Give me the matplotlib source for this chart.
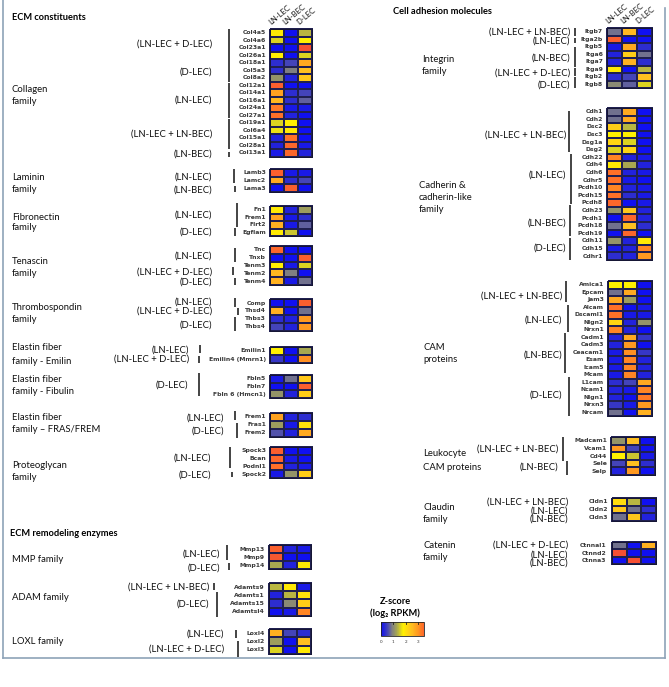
import numpy as np
import matplotlib
matplotlib.use("Agg")
import matplotlib.pyplot as plt
from matplotlib.colors import LinearSegmentedColormap, Normalize

# ---------------- data ----------------
columns = ["LN-LEC", "LN-BEC", "D-LEC"]

collagen_genes = ["Col4a5", "Col4a6", "Col23a1", "Col26a1", "Col18a1", "Col5a3", "Col8a2",
                  "Col12a1", "Col14a1", "Col16a1", "Col24a1", "Col27a1", "Col19a1", "Col6a4",
                  "Col15a1", "Col28a1", "Col13a1"]
collagen_vals = [[1.9, 0.0, 1.4], [1.6, 0.0, 1.8], [0.0, 0.0, 3.8], [1.8, 0.0, 1.6],
                 [0.3, 0.5, 2.8], [0.3, 0.9, 2.5], [1.1, 0.2, 2.4], [3.6, 0.0, 0.0],
                 [2.9, 0.3, 0.5], [2.6, 0.3, 0.7], [3.3, 0.1, 0.1], [3.4, 0.2, 0.0],
                 [1.6, 1.8, 0.0], [1.7, 1.9, 0.0], [0.2, 3.4, 0.0], [0.2, 3.5, 0.1],
                 [0.1, 3.5, 0.2]]
collagen_groups = ["(LN-LEC + D-LEC)", "(D-LEC)", "(LN-LEC)", "(LN-LEC + LN-BEC)", "(LN-BEC)"]

laminin_genes = ["Lamb3", "Lamc2", "Lama3"]
laminin_vals = [[3.6, 0.1, 0.1], [2.8, 0.3, 0.5], [0.0, 3.6, 0.0]]
laminin_groups = ["(LN-LEC)", "(LN-BEC)"]

fibronectin_genes = ["Fn1", "Frem1", "Flrt2", "Egflam"]
fibronectin_vals = [[1.9, 0.2, 1.2], [2.9, 0.1, 0.3], [2.7, 0.1, 0.7], [1.9, 1.5, 0.0]]
fibronectin_groups = ["(LN-LEC)", "(D-LEC)"]

tenascin_genes = ["Tnc", "Tnxb", "Tenm3", "Tenm2", "Tenm4"]
tenascin_vals = [[3.5, 0.0, 0.0], [0.0, 0.0, 3.6], [1.8, 0.1, 1.6], [2.6, 0.9, 0.0], [2.7, 0.1, 0.8]]
tenascin_groups = ["(LN-LEC)", "(LN-LEC + D-LEC)", "(D-LEC)"]

thrombo_genes = ["Comp", "Thsd4", "Thbs3", "Thbs4"]
thrombo_vals = [[0.0, 0.0, 3.6], [2.7, 0.0, 0.8], [0.3, 0.2, 3.0], [0.5, 0.2, 3.0]]
thrombo_groups = ["(LN-LEC)", "(LN-LEC + D-LEC)", "(D-LEC)"]

emilin_genes = ["Emilin1", "Emilin4 (Mmrn1)"]
emilin_vals = [[1.8, 0.0, 1.3], [0.4, 0.0, 3.1]]
emilin_groups = ["(LN-LEC)", "(LN-LEC + D-LEC)"]

fibulin_genes = ["Fbln5", "Fbln7", "Fbln 6 (Hmcn1)"]
fibulin_vals = [[0.1, 0.8, 2.4], [0.0, 0.0, 3.6], [1.1, 0.2, 2.3]]
fibulin_groups = ["(D-LEC)"]

fras_genes = ["Frem1", "Fras1", "Frem2"]
fras_vals = [[2.9, 0.2, 0.3], [1.2, 0.1, 2.0], [0.6, 0.2, 2.8]]
fras_groups = ["(LN-LEC)", "(D-LEC)"]

proteo_genes = ["Spock3", "Bcan", "Podnl1", "Spock2"]
proteo_vals = [[3.6, 0.0, 0.0], [3.5, 0.1, 0.0], [3.4, 0.2, 0.1], [0.1, 1.1, 2.3]]
proteo_groups = ["(LN-LEC)", "(D-LEC)"]

mmp_genes = ["Mmp13", "Mmp9", "Mmp14"]
mmp_vals = [[3.6, 0.2, 0.1], [3.7, 0.0, 0.0], [1.3, 0.2, 1.9]]
mmp_groups = ["(LN-LEC)", "(D-LEC)"]

adam_genes = ["Adamts9", "Adamts1", "Adamts15", "Adamtsl4"]
adam_vals = [[1.4, 1.9, 0.1], [0.2, 1.4, 2.0], [0.3, 1.0, 2.3], [0.0, 0.1, 3.2]]
adam_groups = ["(LN-LEC + LN-BEC)", "(D-LEC)"]

loxl_genes = ["Loxl4", "Loxl2", "Loxl3"]
loxl_vals = [[2.7, 0.5, 0.3], [1.2, 0.0, 2.5], [1.6, 0.0, 1.9]]
loxl_groups = ["(LN-LEC)", "(LN-LEC + D-LEC)"]

integrin_genes = ["Itgb7", "Itga2b", "Itgb5", "Itga6", "Itga7", "Itga9", "Itgb2", "Itgb8"]
integrin_vals = [[0.8, 2.6, 0.0], [3.6, 0.0, 0.0], [0.1, 2.8, 0.3], [0.2, 2.3, 0.8],
                 [0.2, 2.7, 0.3], [1.9, 0.0, 1.4], [0.3, 0.5, 2.5], [1.0, 0.7, 1.6]]
integrin_groups = ["(LN-LEC + LN-BEC)", "(LN-LEC)", "(LN-BEC)", "(LN-LEC + D-LEC)", "(D-LEC)"]

cadherin_genes = ["Cdh1", "Cdh2", "Dsc2", "Dsc3", "Dsg1a", "Dsg2", "Cdh22", "Cdh4", "Cdh6",
                  "Cdhr5", "Pcdh10", "Pcdh15", "Pcdh8", "Cdh23", "Pcdh1", "Pcdh18", "Pcdh19",
                  "Cdh11", "Cdh15", "Cdhr1"]
cadherin_vals = [[0.8, 2.8, 0.0], [0.8, 2.8, 0.0], [2.3, 1.4, 0.0], [1.8, 1.8, 0.0],
                 [2.2, 1.6, 0.0], [1.6, 2.2, 0.0], [3.2, 0.2, 0.1], [1.9, 1.3, 0.2],
                 [3.4, 0.2, 0.1], [3.4, 0.1, 0.0], [3.2, 0.2, 0.1], [3.4, 0.3, 0.1],
                 [3.5, 0.0, 0.1], [1.1, 2.4, 0.2], [0.0, 3.5, 0.2], [0.8, 2.5, 0.3],
                 [0.0, 3.5, 0.0], [1.1, 0.2, 1.9], [0.1, 0.2, 3.2], [0.3, 0.2, 3.0]]
cadherin_groups = ["(LN-LEC + LN-BEC)", "(LN-LEC)", "(LN-BEC)", "(D-LEC)"]

cam_genes = ["Amica1", "Epcam", "Jam3", "Alcam", "Dscaml1", "Nlgn2", "Nrxn1", "Cadm1", "Cadm3",
             "Ceacam1", "Esam", "Icam5", "Mcam", "L1cam", "Ncam1", "Nlgn1", "Nrxn3", "Nrcam"]
cam_vals = [[1.8, 1.8, 0.0], [0.8, 2.8, 0.0], [2.8, 1.2, 0.0], [3.4, 0.0, 0.1],
            [3.4, 0.1, 0.1], [2.2, 0.2, 1.1], [3.2, 0.2, 0.0], [0.2, 2.8, 0.4],
            [0.2, 3.0, 0.0], [0.1, 3.1, 0.4], [0.1, 3.2, 0.2], [0.1, 3.2, 0.2],
            [0.1, 3.2, 0.2], [0.3, 0.5, 2.8], [0.2, 0.1, 3.2], [0.2, 0.0, 3.3],
            [0.4, 0.1, 3.0], [0.8, 0.0, 2.7]]
cam_groups = ["(LN-LEC + LN-BEC)", "(LN-LEC)", "(LN-BEC)", "(D-LEC)"]

leuko_genes = ["Madcam1", "Vcam1", "Cd44", "Sele", "Selp"]
leuko_vals = [[1.1, 2.5, 0.0], [3.0, 0.5, 0.0], [1.8, 1.5, 0.1], [0.5, 2.5, 0.3], [0.2, 3.0, 0.0]]
leuko_groups = ["(LN-LEC + LN-BEC)", "(LN-BEC)"]

claudin_genes = ["Cldn1", "Cldn2", "Cldn3"]
claudin_vals = [[2.1, 1.4, 0.0], [2.4, 0.8, 0.3], [0.8, 2.4, 0.2]]
claudin_groups = ["(LN-LEC + LN-BEC)", "(LN-LEC)", "(LN-BEC)"]

catenin_genes = ["Ctnnal1", "Ctnnd2", "Ctnna3"]
catenin_vals = [[0.8, 0.0, 2.7], [3.8, 0.0, 0.0], [0.0, 3.8, 0.0]]
catenin_groups = ["(LN-LEC + D-LEC)", "(LN-LEC)", "(LN-BEC)"]

colorbar_ticks = [0, 1, 2, 3]

# ---------------- style ----------------
FONT = ["Lato", "DejaVu Sans"]
plt.rcParams["font.family"] = FONT

nodes = [(0.0, "#1010f0"), (0.45, "#3c3cc0"), (0.9, "#808080"), (1.3, "#a8a850"),
         (1.8, "#fff000"), (2.5, "#ffc020"), (3.0, "#ff9a20"), (3.4, "#ff7028"),
         (4.0, "#f04038")]
VMAX = 4.0
cmap = LinearSegmentedColormap.from_list("z", [(v / VMAX, c) for v, c in nodes])
norm = Normalize(0, VMAX)

W, H = 669, 687
fig = plt.figure(figsize=(W / 100, H / 100), dpi=100)
ax = fig.add_axes([0, 0, 1, 1])
ax.set_xlim(0, W)
ax.set_ylim(H, 0)
ax.axis("off")

GROUP_FS = 6.8
FAM_FS = 6.8
GENE_FS = 4.4
HEAD_FS = 6.7


def block(genes, vals, groups, x0, top, rowh, colw, label_x, label_r, bars,
          family, fam_x, gene_gap=4, header=False):
    vals = np.asarray(vals, float)
    n = len(genes)
    xe = x0 + colw * np.arange(len(columns) + 1)
    ye = top + rowh * np.arange(n + 1)
    ax.pcolormesh(xe, ye, vals, cmap=cmap, norm=norm, edgecolors="#202050",
                  linewidth=0.35)
    ax.add_patch(plt.Rectangle((xe[0], ye[0]), xe[-1] - xe[0], ye[-1] - ye[0],
                               fill=False, ec="#151530", lw=0.6))
    for i, g in enumerate(genes):
        ax.text(x0 - gene_gap, top + (i + 0.5) * rowh, g, ha="right", va="center",
                fontsize=GENE_FS, fontweight="bold", color="#3a3a3a",
                family=["DejaVu Sans"])
    for g, r in zip(groups, label_r):
        ax.text(label_x, top + r * rowh, g, ha="right", va="center",
                fontsize=GROUP_FS, color="#111111")
    for (r0, r1, bx) in bars:
        ax.plot([bx, bx], [top + r0 * rowh, top + r1 * rowh], color="#111111",
                lw=1.1, solid_capstyle="butt")
    for line, y in family:
        ax.text(fam_x, y, line, ha="left", va="center", fontsize=FAM_FS, color="#111111")
    if header:
        for j, c in enumerate(columns):
            ax.text(xe[j] + 1.5, top - 3, c, rotation=40, rotation_mode="anchor",
                    ha="left", va="bottom", fontsize=5.5, color="#111111")


LX = 12
RX = 422
# ---- left panel ----
ax.text(12, 17, "ECM constituents", fontsize=HEAD_FS, fontweight="bold", va="center")
block(collagen_genes, collagen_vals, collagen_groups, 270, 29, 7.5, 14, 212,
      [2.0, 5.7, 9.5, 14.0, 16.7],
      [(0, 3.97, 229), (4.05, 7, 229), (7.2, 11.9, 229), (12, 15.95, 229), (16.4, 17, 229)],
      [("Collagen", 90), ("family", 101)], LX, header=True)
block(laminin_genes, laminin_vals, laminin_groups, 270, 169, 7.7, 14, 212, [1.0, 2.7],
      [(0, 1.8, 234), (2.2, 3, 235)], [("Laminin", 177), ("family", 190)], LX)
block(fibronectin_genes, fibronectin_vals, fibronectin_groups, 270, 206, 7.5, 14, 212,
      [1.2, 3.5], [(-0.4, 2.8, 237), (2.9, 4, 235)],
      [("Fibronectin", 217), ("family", 228)], LX)
block(tenascin_genes, tenascin_vals, tenascin_groups, 270, 246, 7.8, 14, 212,
      [1.3, 3.3, 4.6], [(0.3, 2.1, 235), (2.7, 3.7, 233), (4.1, 5, 235)],
      [("Tenascin", 262), ("family", 274)], LX)
block(thrombo_genes, thrombo_vals, thrombo_groups, 270, 299, 8, 14, 212,
      [0.4, 1.5, 3.2], [(-0.1, 1.0, 235), (1.1, 2.0, 238), (2.3, 4.0, 235)],
      [("Thrombospondin", 307), ("family", 319)], LX)
block(emilin_genes, emilin_vals, emilin_groups, 270, 347, 8, 14, 189,
      [0.4, 1.5], [(-0.3, 0.7, 200), (1.1, 2.0, 199)],
      [("Elastin fiber", 347), ("family - Emilin", 361)], LX)
block(fibulin_genes, fibulin_vals, fibulin_groups, 270, 375, 7.7, 14, 188,
      [1.3], [(-0.25, 2.7, 199)],
      [("Elastin fiber", 380), ("family - Fibulin", 392)], LX)
block(fras_genes, fras_vals, fras_groups, 270, 413, 8, 14, 224,
      [0.6, 2.2], [(-0.3, 0.9, 235), (1.2, 3.1, 237)],
      [("Elastin fiber", 418), ("family \u2013 FRAS/FREM", 430)], LX)
block(proteo_genes, proteo_vals, proteo_groups, 270, 447, 7.8, 14, 211,
      [1.4, 3.6], [(0, 2.7, 230), (3.2, 3.9, 232)],
      [("Proteoglycan", 466), ("family", 477)], LX)

ax.text(10, 533, "ECM remodeling enzymes", fontsize=HEAD_FS, fontweight="bold", va="center")
block(mmp_genes, mmp_vals, mmp_groups, 269, 545, 8, 14, 220,
      [1.1, 2.9], [(0, 1.9, 227), (2.25, 3.1, 229)], [("MMP family", 559)], LX)
block(adam_genes, adam_vals, adam_groups, 269, 583, 8.2, 14, 209,
      [0.5, 2.6], [(0, 0.9, 214), (1.1, 4.1, 217)], [("ADAM family", 597)], LX)
block(loxl_genes, loxl_vals, loxl_groups, 269, 629, 8.3, 14, 224,
      [0.6, 2.4], [(0.1, 1.1, 236), (1.5, 3.4, 238)], [("LOXL family", 642)], LX)

# ---- right panel ----
ax.text(393, 12, "Cell adhesion molecules", fontsize=HEAD_FS, fontweight="bold", va="center")
block(integrin_genes, integrin_vals, integrin_groups, 607, 28, 7.5, 15, 570,
      [0.5, 1.8, 4.0, 6.0, 7.6],
      [(0, 1, 575), (1.3, 2.0, 575), (2.5, 5.2, 575), (5.3, 6.4, 575), (6.5, 8.0, 575)],
      [("Integrin", 60), ("family", 72)], RX, header=True)
block(cadherin_genes, cadherin_vals, cadherin_groups, 607, 108, 7.6, 15, 566,
      [3.55, 8.8, 15.1, 18.4],
      [(0.4, 5.8, 569), (6.05, 12.6, 571), (12.8, 16.8, 570), (17.1, 20, 570)],
      [("Cadherin &", 185), ("cadherin-like", 197), ("family", 209)], RX - 3)
block(cam_genes, cam_vals, cam_groups, 608, 281, 7.5, 14.7, 562,
      [2.0, 5.2, 9.9, 15.2],
      [(0, 2.8, 566), (3.2, 6.8, 568), (6.9, 12.3, 565), (12.8, 18, 569)],
      [("CAM", 347), ("proteins", 359)], RX + 1)
block(leuko_genes, leuko_vals, leuko_groups, 611, 437, 7.6, 14.7, 558,
      [1.6, 3.9], [(0, 3.2, 563), (3.2, 5, 567)],
      [("Leukocyte", 454), ("CAM proteins", 467)], RX + 1)
block(claudin_genes, claudin_vals, claudin_groups, 612, 498, 7.7, 14.5, 568,
      [0.5, 1.7, 2.7], [], [("Claudin", 507), ("family", 520)], RX + 1)
block(catenin_genes, catenin_vals, catenin_groups, 612, 542, 7.4, 14.7, 568,
      [0.4, 1.7, 2.9], [], [("Catenin", 545), ("family", 557)], RX + 1, gene_gap=6)

# ---- colorbar ----
CB_X0, CB_X1, CB_Y0, CB_Y1, CB_MAX = 381, 424, 622, 636, 3.5
cb_vals = np.linspace(0, CB_MAX, 120)
ax.pcolormesh(np.linspace(CB_X0, CB_X1, len(cb_vals) + 1), [CB_Y0, CB_Y1],
              cb_vals[None, :], cmap=cmap, norm=norm, shading="flat")
ax.add_patch(plt.Rectangle((CB_X0, CB_Y0), CB_X1 - CB_X0, CB_Y1 - CB_Y0,
                           fill=False, ec="#222222", lw=0.6))
for t in colorbar_ticks:
    tx = CB_X0 + (CB_X1 - CB_X0) * t / CB_MAX
    ax.plot([tx, tx], [CB_Y0, CB_Y0 + 1.5], color="#222222", lw=0.6)
    ax.text(tx, 642, str(t), ha="center", va="center", fontsize=3.2, color="#333333")
ax.text(395, 601, "Z-score", ha="center", va="center", fontsize=6.7, fontweight="bold")
ax.text(395, 613, "(log\u2082 RPKM)", ha="center", va="center", fontsize=6.7,
        fontweight="bold", family=FONT)

# ---- frame ----
fc = "#8ea3b8"
ax.plot([2.5, 2.5], [0, 658], color=fc, lw=1.2)
ax.plot([2.5, 665], [658, 658], color=fc, lw=1.2)
ax.plot([665, 665], [8, 658], color=fc, lw=1.2)

fig.savefig("out.png", dpi=100)
